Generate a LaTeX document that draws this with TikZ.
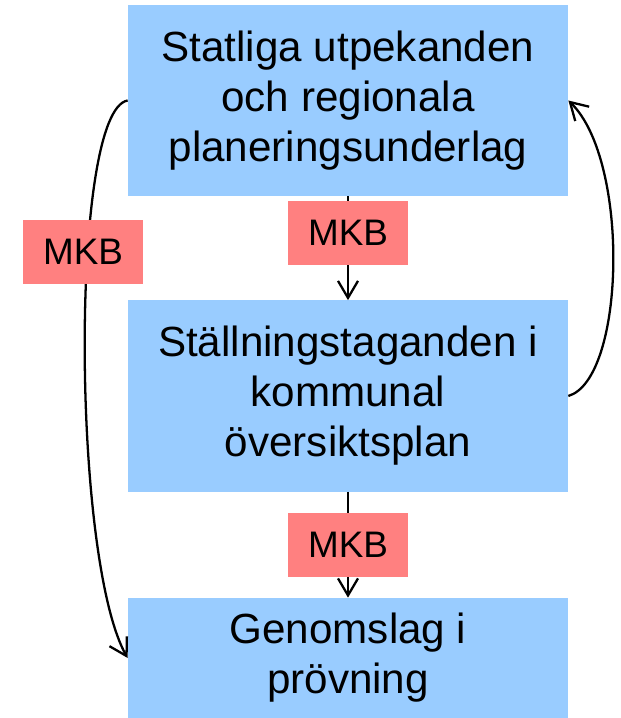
\documentclass[tikz,border=0pt]{standalone}
\usepackage{fontspec}
\setmainfont{Liberation Sans}
\usetikzlibrary{positioning,arrows.meta}
\definecolor{boxblue}{RGB}{153,204,255}
\definecolor{mkbred}{RGB}{255,128,128}
\tikzstyle{plan} = [rectangle, minimum width=8.8cm, minimum height=3.82cm, text centered, align=center, fill=boxblue, font=\fontsize{24}{28.5}\selectfont]
\tikzstyle{mkb} = [rectangle, minimum width=2.4cm, minimum height=1.28cm, fill=mkbred, font=\fontsize{21}{25}\selectfont]
\tikzstyle{arrow} = [line width=1.3pt, -{Straight Barb[length=3.4mm,width=4mm]}]
\begin{document}
\begin{tikzpicture}[node distance=5.91cm]
\useasboundingbox (0,0) rectangle (12.4,-14.36);
\node (top) [plan] at (6.96,-2.01) {Statliga utpekanden\\och regionala\\planeringsunderlag};
\node (mid) [plan, below of=top] {Ställningstaganden i\\kommunal\\översiktsplan};
\node (bot) [plan, below of=mid, minimum height=2.4cm, yshift=0.67cm] {Genomslag i\\prövning};
\draw [arrow] (top) -- node[mkb, pos=0.35] (mkb1) {MKB} (mid);
\draw [arrow] (mid) -- node[mkb] (mkb2) {MKB} (bot);
\draw [arrow] (top.west) .. controls +(-1.16,-0.2) and +(-1.12,1.98) .. node[mkb, pos=0.37, xshift=-0.09cm] (mkb3) {MKB} (bot.west);
\draw [arrow] (mid.east) .. controls +(1.14,0.34) and +(1.24,-1.2) .. (top.east);
\end{tikzpicture}
\end{document}
